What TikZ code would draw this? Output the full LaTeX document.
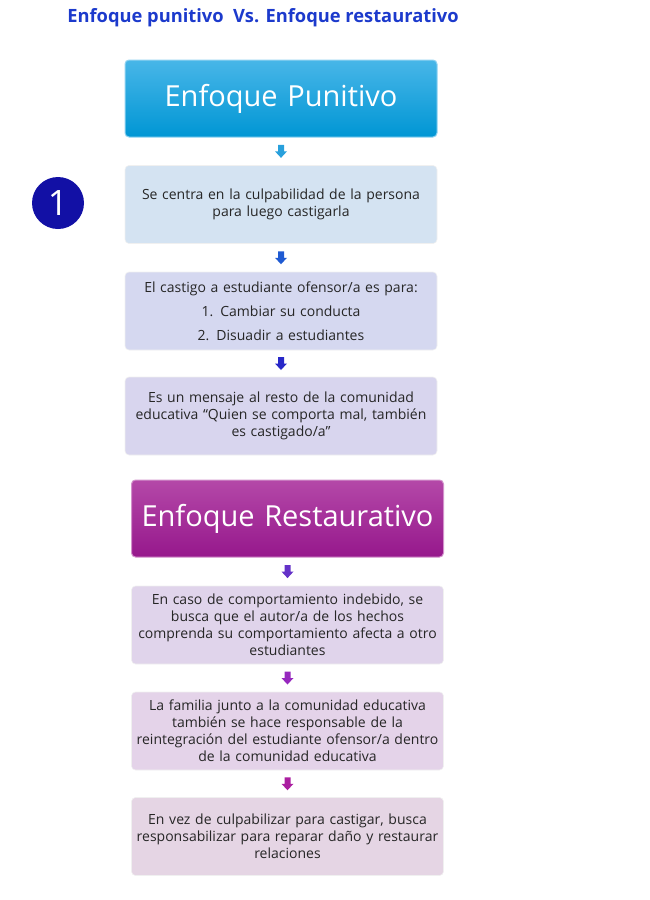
\documentclass[tikz,border=0pt]{standalone}
\usepackage{fontspec}
\setmainfont{Open Sans}
\usetikzlibrary{calc}
\definecolor{titleblue}{RGB}{28,58,204}
\definecolor{honeTop}{RGB}{72,182,232}
\definecolor{honeBot}{RGB}{0,150,212}
\definecolor{htwoTop}{RGB}{180,72,168}
\definecolor{htwoBot}{RGB}{150,24,140}
\definecolor{fillB}{RGB}{212,227,242}
\definecolor{fillC}{RGB}{213,216,240}
\definecolor{fillD}{RGB}{216,213,238}
\definecolor{fillE}{RGB}{224,212,235}
\definecolor{fillF}{RGB}{228,211,233}
\definecolor{fillG}{RGB}{229,213,228}
\definecolor{arrA}{RGB}{40,160,220}
\definecolor{arrB}{RGB}{30,90,210}
\definecolor{arrC}{RGB}{40,40,200}
\definecolor{arrD}{RGB}{100,50,200}
\definecolor{arrE}{RGB}{150,40,190}
\definecolor{arrF}{RGB}{170,30,160}
\definecolor{navy}{RGB}{18,16,165}
\begin{document}
\begin{tikzpicture}[x=1pt,y=-1pt,
  hdr/.style={rounded corners=4pt, text width=300pt, inner sep=6pt, minimum height=77pt,
    align=center, text=white, font=\fontsize{29}{32}\selectfont, line width=1pt},
  infobox/.style={rounded corners=4pt, text width=304pt, inner sep=4pt, minimum height=78pt,
    align=center, font=\fontsize{14}{17}\selectfont, text=black!85, draw=white!60!gray!30, line width=0.6pt},
  blockarrow/.pic={\fill (-3,-6.5) -- (3,-6.5) -- (3,0) -- (6,0) -- (0,6.5) -- (-6,0) -- (-3,0) -- cycle;}
]
\useasboundingbox (0,0) rectangle (650,900);

\node[font=\bfseries\fontsize{18.3}{20}\selectfont, text=titleblue] (title) at (263,18) {Enfoque punitivo\ \ Vs. Enfoque restaurativo};

\node[hdr, top color=honeTop, bottom color=honeBot, draw=honeTop!60!white] (h1) at (281,98.5) {Enfoque Punitivo};
\node[infobox, fill=fillB] (b2) at (281,204.5) {Se centra en la culpabilidad de la persona\\ para luego castigarla};
\node[infobox, fill=fillC] (b3) at (281,311) {El castigo a estudiante ofensor/a es para:\\[7pt] 1. Cambiar su conducta\\[7pt] 2. Disuadir a estudiantes};
\node[infobox, fill=fillD] (b4) at (281,416) {Es un mensaje al resto de la comunidad\\ educativa “Quien se comporta mal, también\\ es castigado/a”};

\node[circle, fill=navy, minimum size=52pt, inner sep=0pt, text=white, font=\fontsize{35}{35}\selectfont] (n1) at (58,203) {1};

\node[hdr, top color=htwoTop, bottom color=htwoBot, draw=htwoTop!60!white] (h2) at (287.5,518.5) {Enfoque Restaurativo};
\node[infobox, fill=fillE] (b5) at (287.5,625) {En caso de comportamiento indebido, se\\ busca que el autor/a de los hechos\\ comprenda su comportamiento afecta a otro\\ estudiantes};
\node[infobox, fill=fillF] (b6) at (287.5,731) {La familia junto a la comunidad educativa\\ también se hace responsable de la\\ reintegración del estudiante ofensor/a dentro\\ de la comunidad educativa};
\node[infobox, fill=fillG] (b7) at (287.5,836.5) {En vez de culpabilizar para castigar, busca\\ responsabilizar para reparar daño y restaurar\\ relaciones};

\path (h1.south) -- (b2.north) coordinate[pos=0.5] (a1);
\path (b2.south) -- (b3.north) coordinate[pos=0.5] (a2);
\path (b3.south) -- (b4.north) coordinate[pos=0.5] (a3);
\path (h2.south) -- (b5.north) coordinate[pos=0.5] (a4);
\path (b5.south) -- (b6.north) coordinate[pos=0.5] (a5);
\path (b6.south) -- (b7.north) coordinate[pos=0.5] (a6);
\pic[arrA] at (a1) {blockarrow};
\pic[arrB] at (a2) {blockarrow};
\pic[arrC] at (a3) {blockarrow};
\pic[arrD] at (a4) {blockarrow};
\pic[arrE] at (a5) {blockarrow};
\pic[arrF] at (a6) {blockarrow};
\end{tikzpicture}
\end{document}
